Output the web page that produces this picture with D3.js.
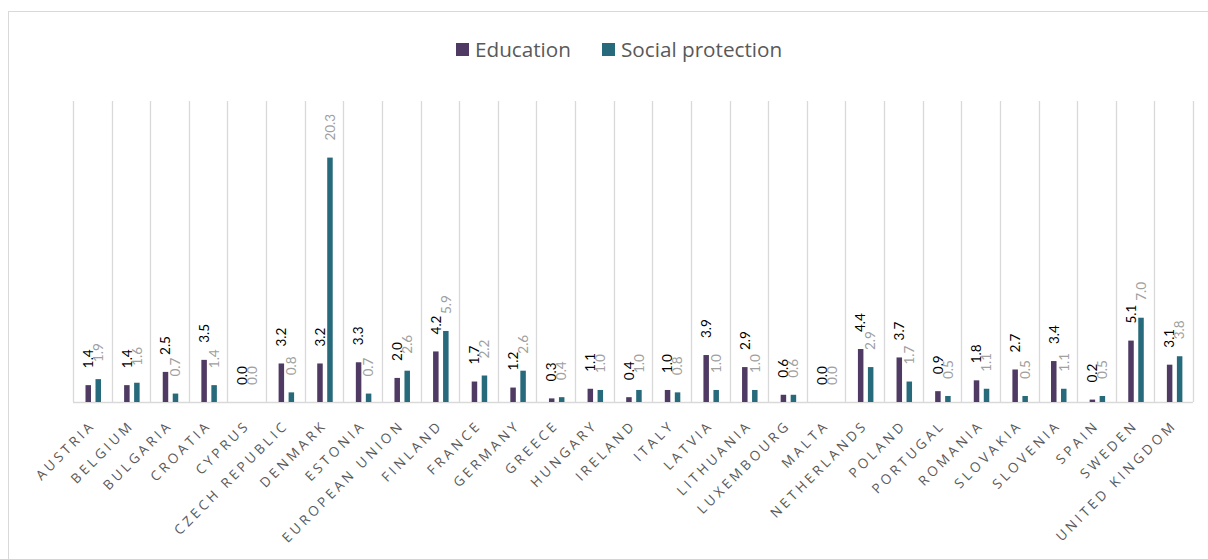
<!DOCTYPE html>
<html>
<head>
<meta charset="utf-8">
<script src="https://cdn.jsdelivr.net/npm/d3@7"></script>
<style>
body { margin: 0; background: #fff; }
svg { display: block; }
</style>
</head>
<body>
<div id="chart"></div>
<script>
var countries = ["Austria", "Belgium", "Bulgaria", "Croatia", "Cyprus", "Czech Republic", "Denmark", "Estonia",
	"European Union", "Finland", "France", "Germany", "Greece", "Hungary", "Ireland", "Italy", "Latvia",
	"Lithuania", "Luxembourg", "Malta", "Netherlands", "Poland", "Portugal", "Romania", "Slovakia",
	"Slovenia", "Spain", "Sweden", "United Kingdom"]
var education = [1.4, 1.4, 2.5, 3.5, 0.0, 3.2, 3.2, 3.3, 2.0, 4.2, 1.7, 1.2, 0.3, 1.1, 0.4, 1.0, 3.9,
	2.9, 0.6, 0.0, 4.4, 3.7, 0.9, 1.8, 2.7, 3.4, 0.2, 5.1, 3.1]
var socialProtection = [1.9, 1.6, 0.7, 1.4, 0.0, 0.8, 20.3, 0.7, 2.6, 5.9, 2.2, 2.6, 0.4, 1.0, 1.0, 0.8, 1.0,
	1.0, 0.6, 0.0, 2.9, 1.7, 0.5, 1.1, 0.5, 1.1, 0.5, 7.0, 3.8]
var seriesNames = ["Education", "Social protection"]
var colors = ["#4e3a62", "#276a7b"]
var labelColors = ["#000000", "#a0a0a0"]

var W = 1208, H = 559
var svg = d3.select("#chart").append("svg").attr("width", W).attr("height", H)

// chart frame
svg.append("rect").attr("x", 8.5).attr("y", 11.5).attr("width", W + 10).attr("height", H + 10)
	.attr("fill", "none").attr("stroke", "#d9d9d9").attr("stroke-width", 1)

var x0 = d3.scaleBand().domain(countries).range([73, 1193]).padding(0)
var x1 = d3.scaleBand().domain(seriesNames).range([12.5, 28]).paddingInner(0.45)
var y = d3.scaleLinear().domain([0, 25]).range([402, 101])

// vertical gridlines between categories
var edges = countries.map(function(c){return x0(c)}).concat([x0.range()[1]])
svg.selectAll("line.grid").data(edges).enter().append("line")
	.attr("class", "grid")
	.attr("x1", function(d){return Math.round(d) + 0.5}).attr("x2", function(d){return Math.round(d) + 0.5})
	.attr("y1", y(25)).attr("y2", y(0))
	.attr("stroke", "#d9d9d9").attr("stroke-width", 1.3)

// baseline
svg.append("line").attr("x1", 73).attr("x2", 1193).attr("y1", y(0) + 0.5).attr("y2", y(0) + 0.5)
	.attr("stroke", "#d9d9d9").attr("stroke-width", 1.3)

var rows = countries.map(function(c, i){
	return {country: c, values: [education[i], socialProtection[i]]}
})

var groups = svg.selectAll("g.country").data(rows).enter().append("g")
	.attr("class", "country")
	.attr("transform", function(d){return "translate(" + x0(d.country) + ",0)"})

groups.selectAll("rect").data(function(d){return d.values.map(function(v, k){return {k: k, v: v}})})
	.enter().append("rect")
	.attr("x", function(d){return x1(seriesNames[d.k])})
	.attr("width", x1.bandwidth())
	.attr("y", function(d){return y(d.v)})
	.attr("height", function(d){return y(0) - y(d.v)})
	.attr("fill", function(d){return colors[d.k]})

groups.selectAll("text.val").data(function(d){return d.values.map(function(v, k){return {k: k, v: v}})})
	.enter().append("text")
	.attr("class", "val")
	.attr("transform", function(d){
		var cx = x1(seriesNames[d.k]) + x1.bandwidth() / 2
		return "translate(" + cx + "," + (y(d.v) - 17) + ") rotate(-90)"
	})
	.attr("dy", "0.35em")
	.attr("text-anchor", "start")
	.attr("font-family", "Lato, 'Open Sans', sans-serif")
	.attr("font-size", "13.5px")
	.attr("fill", function(d){return labelColors[d.k]})
	.text(function(d){return d.v.toFixed(1)})

// category labels
svg.selectAll("text.cat").data(countries).enter().append("text")
	.attr("class", "cat")
	.attr("transform", function(d){
		return "translate(" + (x0(d) + x0.bandwidth() / 2 + 4) + "," + (y(0) + 24) + ") rotate(-45)"
	})
	.attr("text-anchor", "end")
	.attr("font-family", "'Open Sans', sans-serif")
	.attr("font-size", "13.5px")
	.attr("letter-spacing", "3.4px")
	.attr("fill", "#595959")
	.text(function(d){return d.toUpperCase()})

// legend
var legendX = [456, 602]
var legend = svg.selectAll("g.legend").data(seriesNames).enter().append("g")
	.attr("class", "legend")
	.attr("transform", function(d, i){return "translate(" + legendX[i] + ",43)"})
legend.append("rect").attr("width", 13).attr("height", 13)
	.attr("fill", function(d, i){return colors[i]})
legend.append("text").attr("x", 19).attr("y", 13.5)
	.attr("font-family", "'Open Sans', sans-serif")
	.attr("font-size", "20.7px")
	.attr("fill", "#595959")
	.text(function(d){return d})
</script>
</body>
</html>
